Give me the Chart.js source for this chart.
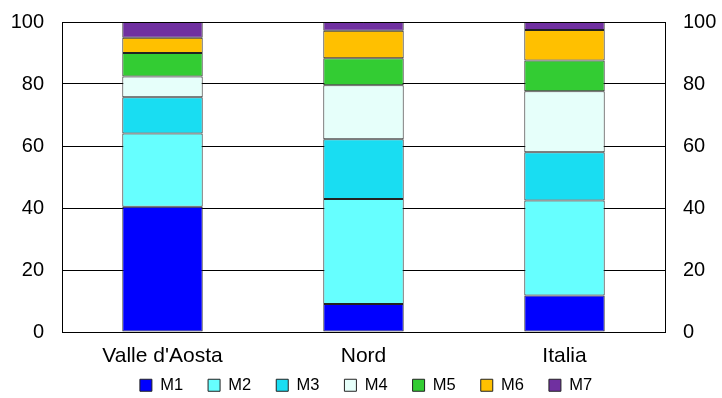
<!DOCTYPE html>
<html>
<head>
<meta charset="utf-8">
<script src="https://cdn.jsdelivr.net/npm/chart.js@4/dist/chart.umd.min.js"></script>
<style>
html,body{margin:0;padding:0;background:#fff;}
#wrap{width:722px;height:398px;}
</style>
</head>
<body>
<div id="wrap"><canvas id="c" width="722" height="398"></canvas></div>
<script>
const categories = ["Valle d'Aosta", "Nord", "Italia"];
const seriesNames = ["M1", "M2", "M3", "M4", "M5", "M6", "M7"];
const M1 = [40.4, 9.0, 11.8];
const M2 = [23.6, 33.9, 30.6];
const M3 = [11.7, 19.3, 15.6];
const M4 = [6.7, 17.4, 19.7];
const M5 = [7.6, 8.7, 9.9];
const M6 = [4.9, 8.9, 9.8];
const M7 = [5.1, 2.8, 2.6];
const yTicks = [0, 20, 40, 60, 80, 100];

const seriesValues = [M1, M2, M3, M4, M5, M6, M7];
const colors = ["#0000FF", "#66FFFF", "#19DDF2", "#E6FFFA", "#33CC33", "#FFC000", "#7030A0"];

const datasets = seriesNames.map((n, i) => ({
  label: n,
  data: seriesValues[i],
  backgroundColor: colors[i],
  borderColor: "#222222",
  borderWidth: 1,
  borderSkipped: false,
  barPercentage: 0.4,
  categoryPercentage: 1.0,
  yAxisID: "y"
}));

const fam = "'Liberation Sans', Arial, sans-serif";
const noPad = (s) => { s.paddingTop = 0; s.paddingBottom = 0; };

new Chart(document.getElementById("c"), {
  type: "bar",
  data: { labels: categories, datasets },
  options: {
    responsive: false,
    animation: false,
    devicePixelRatio: 1,
    layout: { padding: { top: 22, left: 0, right: 0, bottom: 0 } },
    plugins: {
      legend: {
        position: "bottom",
        labels: {
          boxWidth: 12,
          boxHeight: 12,
          padding: 25,
          color: "#000",
          font: { family: fam, size: 16.5 }
        }
      },
      tooltip: { enabled: false }
    },
    scales: {
      x: {
        stacked: true,
        grid: { display: false, drawTicks: false },
        border: { display: true, color: "#000" },
        ticks: { color: "#000", font: { family: fam, size: 21 }, padding: 12 },
        afterFit: (s) => { s.height = 40; }
      },
      y: {
        stacked: true,
        position: "left",
        min: 0, max: 100,
        afterBuildTicks: (s) => { s.ticks = yTicks.map(v => ({ value: v })); },
        grid: { color: "#000", lineWidth: 1, drawTicks: false },
        border: { display: true, color: "#000" },
        ticks: { color: "#000", font: { family: fam, size: 20 }, padding: 18 },
        afterFit: (s) => { s.width = 62; noPad(s); }
      },
      y2: {
        position: "right",
        min: 0, max: 100,
        afterBuildTicks: (s) => { s.ticks = yTicks.map(v => ({ value: v })); },
        grid: { display: false, drawTicks: false },
        border: { display: true, color: "#000" },
        ticks: { color: "#000", font: { family: fam, size: 20 }, padding: 18 },
        afterFit: (s) => { s.width = 57; noPad(s); }
      }
    }
  },
  plugins: [{
    id: "legendPatch",
    beforeLayout(chart) {
      const lg = chart.legend;
      if (lg && !lg._patched) {
        const origFit = lg.fit.bind(lg);
        lg.fit = function () { origFit(); this.height = 26; };
        const origDraw = lg.draw.bind(lg);
        lg.draw = function () {
          const saved = { top: this.top, bottom: this.bottom, left: this.left, right: this.right };
          this.top = saved.top - 20;
          this.bottom = this.chart.height;
          this.left = saved.left + 5;
          this.right = saved.right + 5;
          origDraw();
          Object.assign(this, saved);
        };
        lg._patched = true;
      }
    },
    afterDraw(chart) {
      const { ctx, chartArea } = chart;
      ctx.save();
      ctx.strokeStyle = "#000";
      ctx.lineWidth = 1;
      ctx.beginPath();
      ctx.moveTo(chartArea.left, chartArea.top + 0.5);
      ctx.lineTo(chartArea.right, chartArea.top + 0.5);
      ctx.stroke();
      ctx.restore();
    }
  }]
});
</script>
</body>
</html>
